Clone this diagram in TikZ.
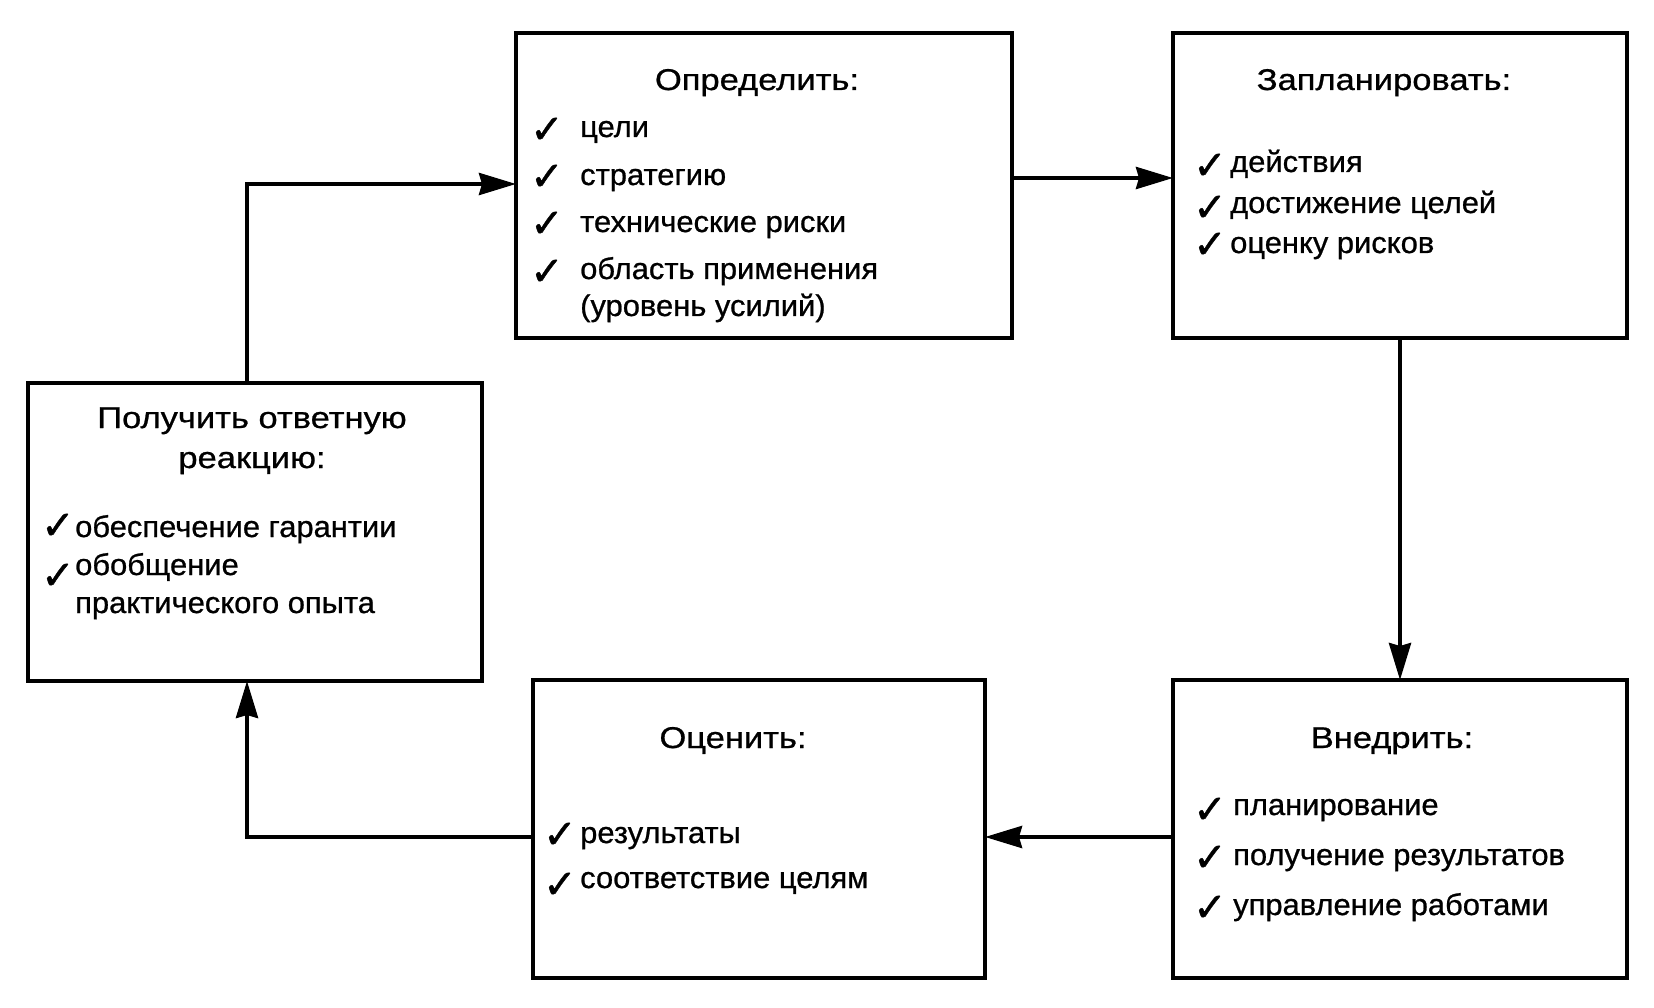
\documentclass[tikz,border=0pt]{standalone}
\usepackage{fontspec}
\setmainfont{Liberation Sans}
\newfontfamily\ckfont[FakeBold=1.2]{DejaVu Sans}
\newfontfamily\ttlfont[FakeStretch=1.15,FakeBold=0.8]{Liberation Sans}
\newfontfamily\itmfont[FakeStretch=1.03,FakeBold=0.8]{Liberation Sans}
\usetikzlibrary{arrows.meta}
\begin{document}
\begin{tikzpicture}[x=1pt,y=-1pt,
  box/.style={draw, line width=4pt, rectangle, inner sep=0pt, outer sep=0pt},
  ttl/.style={anchor=base, inner sep=0pt, font=\ttlfont\fontsize{30}{36}\selectfont},
  itm/.style={anchor=base west, inner sep=0pt, font=\itmfont\fontsize{30}{36}\selectfont},
  chk/.style={anchor=base west, inner sep=0pt, font=\ckfont\fontsize{40}{46}\selectfont},
  arr/.style={line width=4pt, -{Stealth[length=37pt,width=22pt,inset=3pt]}}]
\useasboundingbox (0,0) rectangle (1654,1008);
% boxes
\node[box, minimum width=496pt, minimum height=305pt] (op) at (764,185.5) {};
\node[box, minimum width=454pt, minimum height=305pt] (za) at (1400,185.5) {};
\node[box, minimum width=454pt, minimum height=298pt] (po) at (255,532) {};
\node[box, minimum width=452pt, minimum height=298pt] (oc) at (759,829) {};
\node[box, minimum width=454pt, minimum height=298pt] (vn) at (1400,829) {};
% Определить
\node[ttl] (opt) at (757,90) {Определить:};
\node[chk] (opc1) at (530,143) {✓};
\node[itm] (opi1) at (580,137) {цели};
\node[chk] (opc2) at (530,190) {✓};
\node[itm] (opi2) at (580,185) {стратегию};
\node[chk] (opc3) at (530,237) {✓};
\node[itm] (opi3) at (580,232) {технические риски};
\node[chk] (opc4) at (530,285) {✓};
\node[itm] (opi4) at (580,279) {область применения};
\node[itm] (opi5) at (580,316) {(уровень усилий)};
% Запланировать
\node[ttl] (zat) at (1384,90) {Запланировать:};
\node[chk] (zac1) at (1193,179) {✓};
\node[itm] (zai1) at (1230,172) {действия};
\node[chk] (zac2) at (1193,221) {✓};
\node[itm] (zai2) at (1230,213) {достижение целей};
\node[chk] (zac3) at (1193,258) {✓};
\node[itm] (zai3) at (1230,253) {оценку рисков};
% Получить ответную реакцию
\node[ttl] (pot1) at (252,428) {Получить ответную};
\node[ttl] (pot2) at (252,468) {реакцию:};
\node[chk] (poc1) at (41,539) {✓};
\node[itm] (poi1) at (75,537) {обеспечение гарантии};
\node[chk] (poc2) at (41,589) {✓};
\node[itm] (poi2) at (75,575) {обобщение};
\node[itm] (poi3) at (75,613) {практического опыта};
% Оценить
\node[ttl] (oct) at (733,748) {Оценить:};
\node[chk] (occ1) at (543,848) {✓};
\node[itm] (oci1) at (580,843) {результаты};
\node[chk] (occ2) at (543,898) {✓};
\node[itm] (oci2) at (580,888) {соответствие целям};
% Внедрить
\node[ttl] (vnt) at (1392,748) {Внедрить:};
\node[chk] (vnc1) at (1193,823) {✓};
\node[itm] (vni1) at (1233,815) {планирование};
\node[chk] (vnc2) at (1193,871) {✓};
\node[itm] (vni2) at (1233,865) {получение результатов};
\node[chk] (vnc3) at (1193,921) {✓};
\node[itm] (vni3) at (1233,915) {управление работами};
% connectors
\draw[arr] ([xshift=-8pt]po.north) |- ([yshift=1.5pt]op.west);
\draw[arr] ([yshift=7.5pt]op.east) -- ([yshift=7.5pt]za.west);
\draw[arr] (za.south) -- (vn.north);
\draw[arr] ([yshift=-8pt]vn.west) -- ([yshift=-8pt]oc.east);
\draw[arr] ([yshift=-8pt]oc.west) -| ([xshift=-8pt]po.south);
\end{tikzpicture}
\end{document}
